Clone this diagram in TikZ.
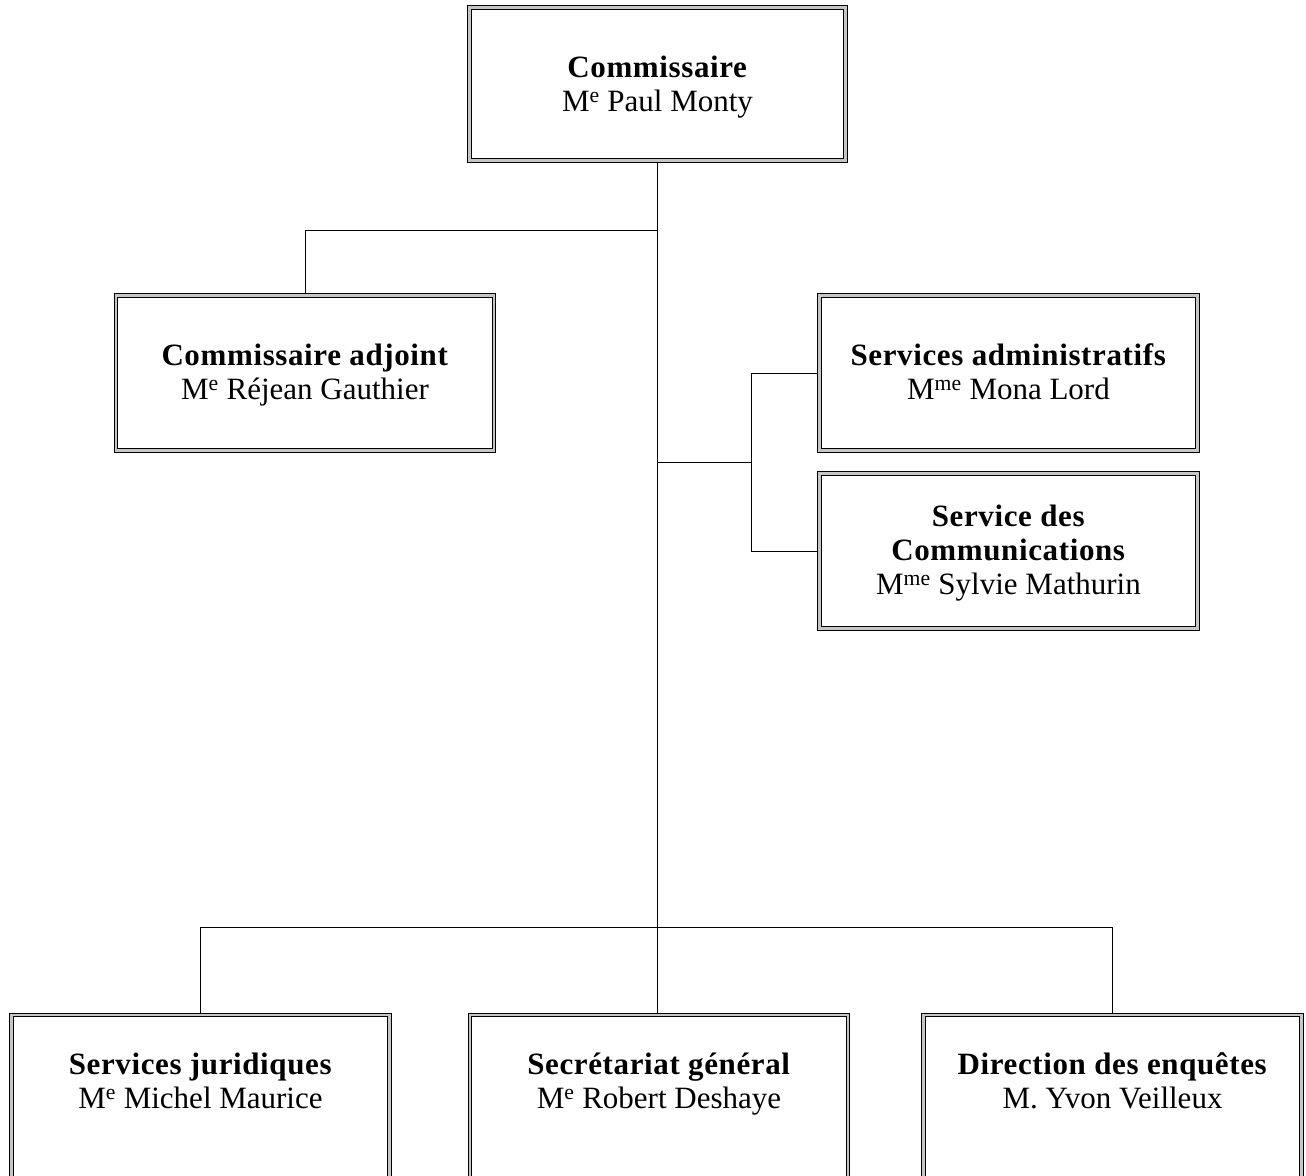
\documentclass[tikz,border=0pt]{standalone}
\usepackage{fontspec}
\setmainfont{Liberation Serif}[BoldFeatures={LetterSpace=2.0}]
\begin{document}
\begin{tikzpicture}[x=1pt,y=-1pt,
  box/.style={draw=black, line width=1.1pt, double=gray!45, double distance=2.4pt,
    rectangle, inner sep=0pt, outer sep=2.3pt, minimum width=378pt, minimum height=155pt},
  txt/.style={align=center, inner sep=0pt, font=\fontsize{31}{34}\selectfont,
    execute at begin node=\strut, execute at end node=\strut},
  conn/.style={draw=black, line width=0.8pt}]
\useasboundingbox (0,0) rectangle (1306,1175);
% boxes
\node[box, minimum width=376pt, minimum height=153pt] (top) at (657.5,84) {};
\node[box] (adj) at (305,373) {};
\node[box] (adm) at (1008.5,373) {};
\node[box] (com) at (1008.5,551) {};
\node[box, minimum height=190pt] (sjb) at (200.5,1110) {};
\node[box, minimum height=190pt] (sgb) at (659,1110) {};
\node[box, minimum height=190pt] (deb) at (1112.5,1110) {};
% texts
\node[txt] (topt) at (657.5,89) {\textbf{Commissaire}\\M\textsuperscript{e} Paul Monty};
\node[txt] (adjt) at (305,377) {\textbf{Commissaire adjoint}\\M\textsuperscript{e} Réjean Gauthier};
\node[txt] (admt) at (1008.5,377) {\textbf{Services administratifs}\\M\textsuperscript{me} Mona Lord};
\node[txt] (comt) at (1008.5,555) {\textbf{Service des}\\\textbf{Communications}\\M\textsuperscript{me} Sylvie Mathurin};
\node[txt] (sj) at (200.5,1086) {\textbf{Services juridiques}\\M\textsuperscript{e} Michel Maurice};
\node[txt] (sg) at (659,1086) {\textbf{Secrétariat général}\\M\textsuperscript{e} Robert Deshaye};
\node[txt] (de) at (1112.5,1086) {\textbf{Direction des enquêtes}\\M. Yvon Veilleux};
% junctions
\coordinate (jA) at (657,230);
\coordinate (jB) at (657,462);
\coordinate (jBr) at (751,462);
\coordinate (jC) at (657,927);
% connectors
\draw[conn] (top.south -| jA) -- (jA |- sgb.north);
\draw[conn] (jA) -| (adj.north);
\draw[conn] (jB) -- (jBr);
\draw[conn] (jBr) |- (adm.west);
\draw[conn] (jBr) |- (com.west);
\draw[conn] (jC) -| (sjb.north);
\draw[conn] (jC) -| (deb.north);
\end{tikzpicture}
\end{document}
